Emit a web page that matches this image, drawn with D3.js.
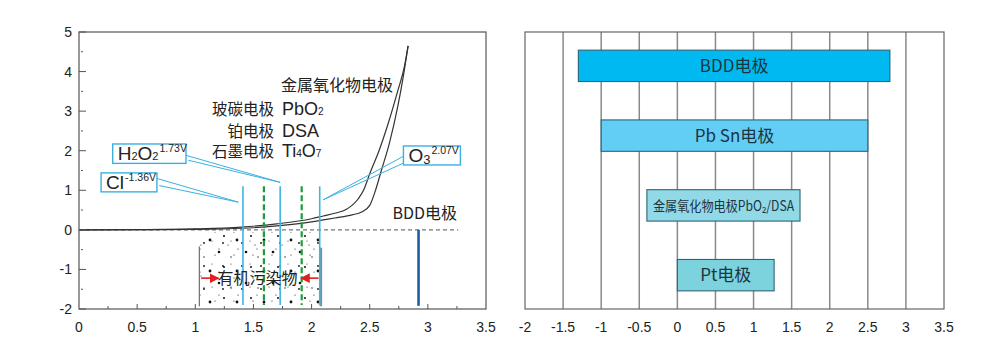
<!DOCTYPE html>
<html>
<head>
<meta charset="utf-8">
<script src="https://cdn.jsdelivr.net/npm/d3@7"></script>
<style>
  body { margin: 0; background: #fff; }
  text { font-family: "Liberation Sans", Arial, sans-serif; }
  .cjk { font-family: "Noto Sans CJK SC", "Noto Sans", sans-serif; }
</style>
</head>
<body>
<div id="chart"></div>
<script>
// left panel: potential curves
const curveMetalOxide = [[0,0],[0.5,0.006],[1.0,0.025],[1.4,0.07],[1.7,0.15],[2.0,0.28],[2.1,0.35],[2.2,0.42],[2.3,0.52],[2.4,0.78],[2.45,1.02],[2.5,1.42],[2.58,2.0],[2.66,2.7],[2.74,3.5],[2.8,4.15],[2.83,4.65]];
const curveOther = [[0,0],[0.5,0.003],[1.0,0.012],[1.4,0.04],[1.7,0.1],[2.0,0.2],[2.1,0.25],[2.2,0.3],[2.35,0.38],[2.43,0.45],[2.5,0.62],[2.55,1.0],[2.6,1.5],[2.67,2.2],[2.74,3.1],[2.79,3.9],[2.83,4.65]];
const blueLines = [1.41, 1.73, 2.07];
const greenLines = [1.59, 1.915];
const bddLine = 2.92;
const pollutantRange = [1.035, 2.08];
const metalOxideLabel = { x: 2.7, y: 3.52, text: "金属氧化物电极" };
const electrodeNames = ["玻碳电极", "铂电极", "石墨电极"];
const electrodeChems = [[["PbO",""],["2","sub"]], [["DSA",""]], [["Ti",""],["4","sub"],["O",""],["7","sub"]]];
const electrodeRowsY = [2.89, 2.34, 1.83];
const callouts = [
  { box: [0.29, 2.17, 0.92, 1.68], tip: [1.73, 1.2], from: [[0.9, 1.9],[0.94, 1.76]],
    parts: [["H",""],["2","sub"],["O",""],["2","sub"],["1.73V","sup"]] },
  { box: [0.19, 1.44, 0.67, 0.96], tip: [1.37, 0.7], from: [[0.67, 1.3],[0.69, 1.12]],
    parts: [["Cl",""],["-1.36V","sup"]] },
  { box: [2.79, 2.12, 3.28, 1.64], tip: [2.1, 0.76], from: [[2.79, 1.86],[2.8, 1.7]],
    parts: [["O",""],["3","sub3"],["2.07V","sup"]] }
];
const leftXTicks = [0, 0.5, 1, 1.5, 2, 2.5, 3, 3.5];
const leftYTicks = [-2, -1, 0, 1, 2, 3, 4, 5];

// right panel: potential windows
const electrodes = ["BDD电极", "Pb Sn电极", "金属氧化物电极PbO₂/DSA", "Pt电极"];
const windowLow = [-1.3, -1.0, -0.4, 0.0];
const windowHigh = [2.79, 2.5, 1.61, 1.27];
const windowColors = ["#00b9f0", "#62cdf5", "#92d9e8", "#7dd3dd"];
const rightXTicks = [-2, -1.5, -1, -0.5, 0, 0.5, 1, 1.5, 2, 2.5, 3, 3.5];

const svg = d3.select("#chart").append("svg")
  .attr("width", 1000).attr("height", 355);

// ---------- left panel ----------
const x = d3.scaleLinear().domain([0, 3.5]).range([79, 486]);
const y = d3.scaleLinear().domain([-2, 5]).range([309, 32]);
const L = svg.append("g");

const defs = svg.append("defs");
function dotPattern(id, w, h, dots) {
  const p = defs.append("pattern").attr("id", id).attr("patternUnits", "userSpaceOnUse")
    .attr("width", w).attr("height", h);
  dots.forEach(d => p.append("circle").attr("cx", d[0]).attr("cy", d[1]).attr("r", d[2]).attr("fill", "#111"));
}
dotPattern("dotsA", 27, 31, [[3,4,1.3],[15,9,0.7],[8,19,1.0],[21,23,1.4],[12,28,0.6]]);
dotPattern("dotsB", 19, 23, [[6,2,0.6],[14,13,0.9],[3,11,0.5],[10,19,0.6]]);

["dotsA", "dotsB"].forEach(id => {
  L.append("rect")
    .attr("x", x(pollutantRange[0])).attr("y", y(0) + 2)
    .attr("width", x(pollutantRange[1]) - x(pollutantRange[0]))
    .attr("height", y(-1.92) - y(0) - 2)
    .attr("fill", "url(#" + id + ")");
});

// zero dashed line
L.append("line").attr("x1", x(0)).attr("x2", x(3.26)).attr("y1", y(0)).attr("y2", y(0))
  .attr("stroke", "#777").attr("stroke-width", 1.2).attr("stroke-dasharray", "4,3");

// pollutant gray bounds
L.append("line").attr("x1", x(pollutantRange[0])).attr("x2", x(pollutantRange[0]))
  .attr("y1", y(-0.42)).attr("y2", y(-1.93)).attr("stroke", "#777").attr("stroke-width", 1.3);
L.append("line").attr("x1", x(pollutantRange[1])).attr("x2", x(pollutantRange[1]))
  .attr("y1", y(-0.45)).attr("y2", y(-1.93)).attr("stroke", "#8a8a8a").attr("stroke-width", 2.5);

// curves
const line = d3.line().x(d => x(d[0])).y(d => y(d[1])).curve(d3.curveMonotoneX);
[curveMetalOxide, curveOther].forEach(c => {
  L.append("path").attr("d", line(c)).attr("fill", "none")
    .attr("stroke", "#333").attr("stroke-width", 1.2);
});

// blue and green lines
L.selectAll(".bl").data(blueLines).enter().append("line")
  .attr("x1", d => x(d)).attr("x2", d => x(d)).attr("y1", y(1.1)).attr("y2", y(-1.9))
  .attr("stroke", "#3cb6e6").attr("stroke-width", 1.6);
L.selectAll(".gl").data(greenLines).enter().append("line")
  .attr("x1", d => x(d)).attr("x2", d => x(d)).attr("y1", y(1.1)).attr("y2", y(-1.9))
  .attr("stroke", "#1f9a3c").attr("stroke-width", 2.2).attr("stroke-dasharray", "6,3");

// BDD line
L.append("line").attr("x1", x(bddLine)).attr("x2", x(bddLine)).attr("y1", y(0)).attr("y2", y(-1.92))
  .attr("stroke", "#1f5ca8").attr("stroke-width", 2.6);
L.append("text").attr("class", "cjk").attr("x", x(3.25)).attr("y", y(0.27))
  .attr("text-anchor", "end").attr("font-size", 16).attr("fill", "#222").text("BDD电极");

// arrows
defs.append("marker").attr("id", "arr").attr("viewBox", "0 0 10 10").attr("refX", 9).attr("refY", 5)
  .attr("markerWidth", 6).attr("markerHeight", 6).attr("orient", "auto-start-reverse")
  .append("path").attr("d", "M0,0L10,5L0,10z").attr("fill", "#e02020");
L.append("line").attr("x1", x(1.05)).attr("x2", x(1.2)).attr("y1", y(-1.22)).attr("y2", y(-1.22))
  .attr("stroke", "#e02020").attr("stroke-width", 1.6).attr("marker-end", "url(#arr)");
L.append("line").attr("x1", x(2.06)).attr("x2", x(1.91)).attr("y1", y(-1.22)).attr("y2", y(-1.22))
  .attr("stroke", "#e02020").attr("stroke-width", 1.6).attr("marker-end", "url(#arr)");
L.append("text").attr("class", "cjk").attr("x", x(1.535)).attr("y", y(-1.22) + 6)
  .attr("text-anchor", "middle").attr("font-size", 16).attr("fill", "#222").text("有机污染物");

// electrode labels
L.append("text").attr("class", "cjk").attr("x", x(metalOxideLabel.x)).attr("y", y(metalOxideLabel.y))
  .attr("text-anchor", "end").attr("font-size", 16).attr("fill", "#222").text(metalOxideLabel.text);
electrodeNames.forEach((name, i) => {
  L.append("text").attr("class", "cjk").attr("x", x(1.677)).attr("y", y(electrodeRowsY[i]))
    .attr("text-anchor", "end").attr("font-size", 15.5).attr("fill", "#222").text(name);
  const t = L.append("text").attr("x", x(1.745)).attr("y", y(electrodeRowsY[i]))
    .attr("font-size", 18).attr("fill", "#222").attr("font-family", "'Noto Sans', sans-serif");
  electrodeChems[i].forEach(p => {
    t.append("tspan").attr("font-size", p[1] === "sub" ? 10 : 18).text(p[0]);
  });
});

// callouts
callouts.forEach(c => {
  const bx0 = x(c.box[0]), by0 = y(c.box[1]), bx1 = x(c.box[2]), by1 = y(c.box[3]);
  c.from.forEach(f => {
    L.append("line").attr("x1", x(f[0])).attr("y1", y(f[1])).attr("x2", x(c.tip[0])).attr("y2", y(c.tip[1]))
      .attr("stroke", "#3cb0e0").attr("stroke-width", 1);
  });
  L.append("rect").attr("x", bx0).attr("y", by0).attr("width", bx1 - bx0).attr("height", by1 - by0)
    .attr("fill", "#fff").attr("stroke", "#3cb0e0").attr("stroke-width", 1.4);
  const t = L.append("text").attr("x", bx0 + 5).attr("y", by1 - 3).attr("fill", "#222")
    .attr("font-family", "'Noto Sans', sans-serif").attr("font-size", 19);
  c.parts.forEach(p => {
    const s = t.append("tspan").text(p[0]);
    if (p[1] === "sub") s.attr("font-size", 11);
    if (p[1] === "sub3") s.attr("font-size", 13).attr("dy", 2);
    if (p[1] === "sup") s.attr("font-size", 10.5).attr("dy", p[0].startsWith("2") ? -10 : -8).attr("dx", 1);
  });
});

// frame & ticks
L.append("rect").attr("x", 79).attr("y", 32).attr("width", 486 - 79).attr("height", 309 - 32)
  .attr("fill", "none").attr("stroke", "#555").attr("stroke-width", 1.2);
L.selectAll(".yt").data(leftYTicks).enter().append("line")
  .attr("x1", 79).attr("x2", 86).attr("y1", d => y(d)).attr("y2", d => y(d))
  .attr("stroke", "#555").attr("stroke-width", 1);
L.selectAll(".ym").data(d3.range(-1.5, 5, 1)).enter().append("line")
  .attr("x1", 81).attr("x2", 83).attr("y1", d => y(d)).attr("y2", d => y(d))
  .attr("stroke", "#555").attr("stroke-width", 1);
L.selectAll(".xt").data(d3.range(0.25, 3.5, 0.25)).enter().append("line")
  .attr("x1", d => x(d)).attr("x2", d => x(d)).attr("y1", 309)
  .attr("y2", d => (Math.round(d * 4) % 2 === 0) ? 304 : 306)
  .attr("stroke", "#555").attr("stroke-width", 1);
L.selectAll(".ytl").data(leftYTicks).enter().append("text")
  .attr("x", 72).attr("y", d => y(d) + 5).attr("text-anchor", "end")
  .attr("font-size", 14).attr("fill", "#222").text(d => d);
L.selectAll(".xtl").data(leftXTicks).enter().append("text")
  .attr("x", d => x(d)).attr("y", 332).attr("text-anchor", "middle")
  .attr("font-size", 14).attr("fill", "#222").text(d => d);

// ---------- right panel ----------
const x2 = d3.scaleLinear().domain([-2, 3.5]).range([525, 944]);
const yb = d3.scaleBand().domain(electrodes).range([32, 309]).paddingInner(0.55).paddingOuter(0.26);
const R = svg.append("g");

R.selectAll(".grid").data(rightXTicks.slice(1, -1)).enter().append("line")
  .attr("x1", d => x2(d)).attr("x2", d => x2(d)).attr("y1", 32).attr("y2", 309)
  .attr("stroke", "#8a8a8a").attr("stroke-width", 1.5);
R.append("rect").attr("x", 525).attr("y", 32).attr("width", 944 - 525).attr("height", 309 - 32)
  .attr("fill", "none").attr("stroke", "#666").attr("stroke-width", 1.2);

electrodes.forEach((e, i) => {
  R.append("rect").attr("x", x2(windowLow[i])).attr("y", yb(e))
    .attr("width", x2(windowHigh[i]) - x2(windowLow[i])).attr("height", yb.bandwidth())
    .attr("fill", windowColors[i]).attr("stroke", "#2d6478").attr("stroke-width", 1.1);
  const t = R.append("text").attr("class", "cjk")
    .attr("x", (x2(windowLow[i]) + x2(windowHigh[i])) / 2).attr("y", yb(e) + yb.bandwidth() / 2 + 6)
    .attr("text-anchor", "middle").attr("fill", "#1b3540")
    .attr("font-size", i === 2 ? 14 : 17).text(e);
  if (i === 2) t.attr("textLength", x2(windowHigh[i]) - x2(windowLow[i]) - 12).attr("lengthAdjust", "spacingAndGlyphs");
});

R.selectAll(".xtl").data(rightXTicks).enter().append("text")
  .attr("x", d => x2(d)).attr("y", 332).attr("text-anchor", "middle")
  .attr("font-size", 14).attr("fill", "#222").text(d => d);
</script>
</body>
</html>
